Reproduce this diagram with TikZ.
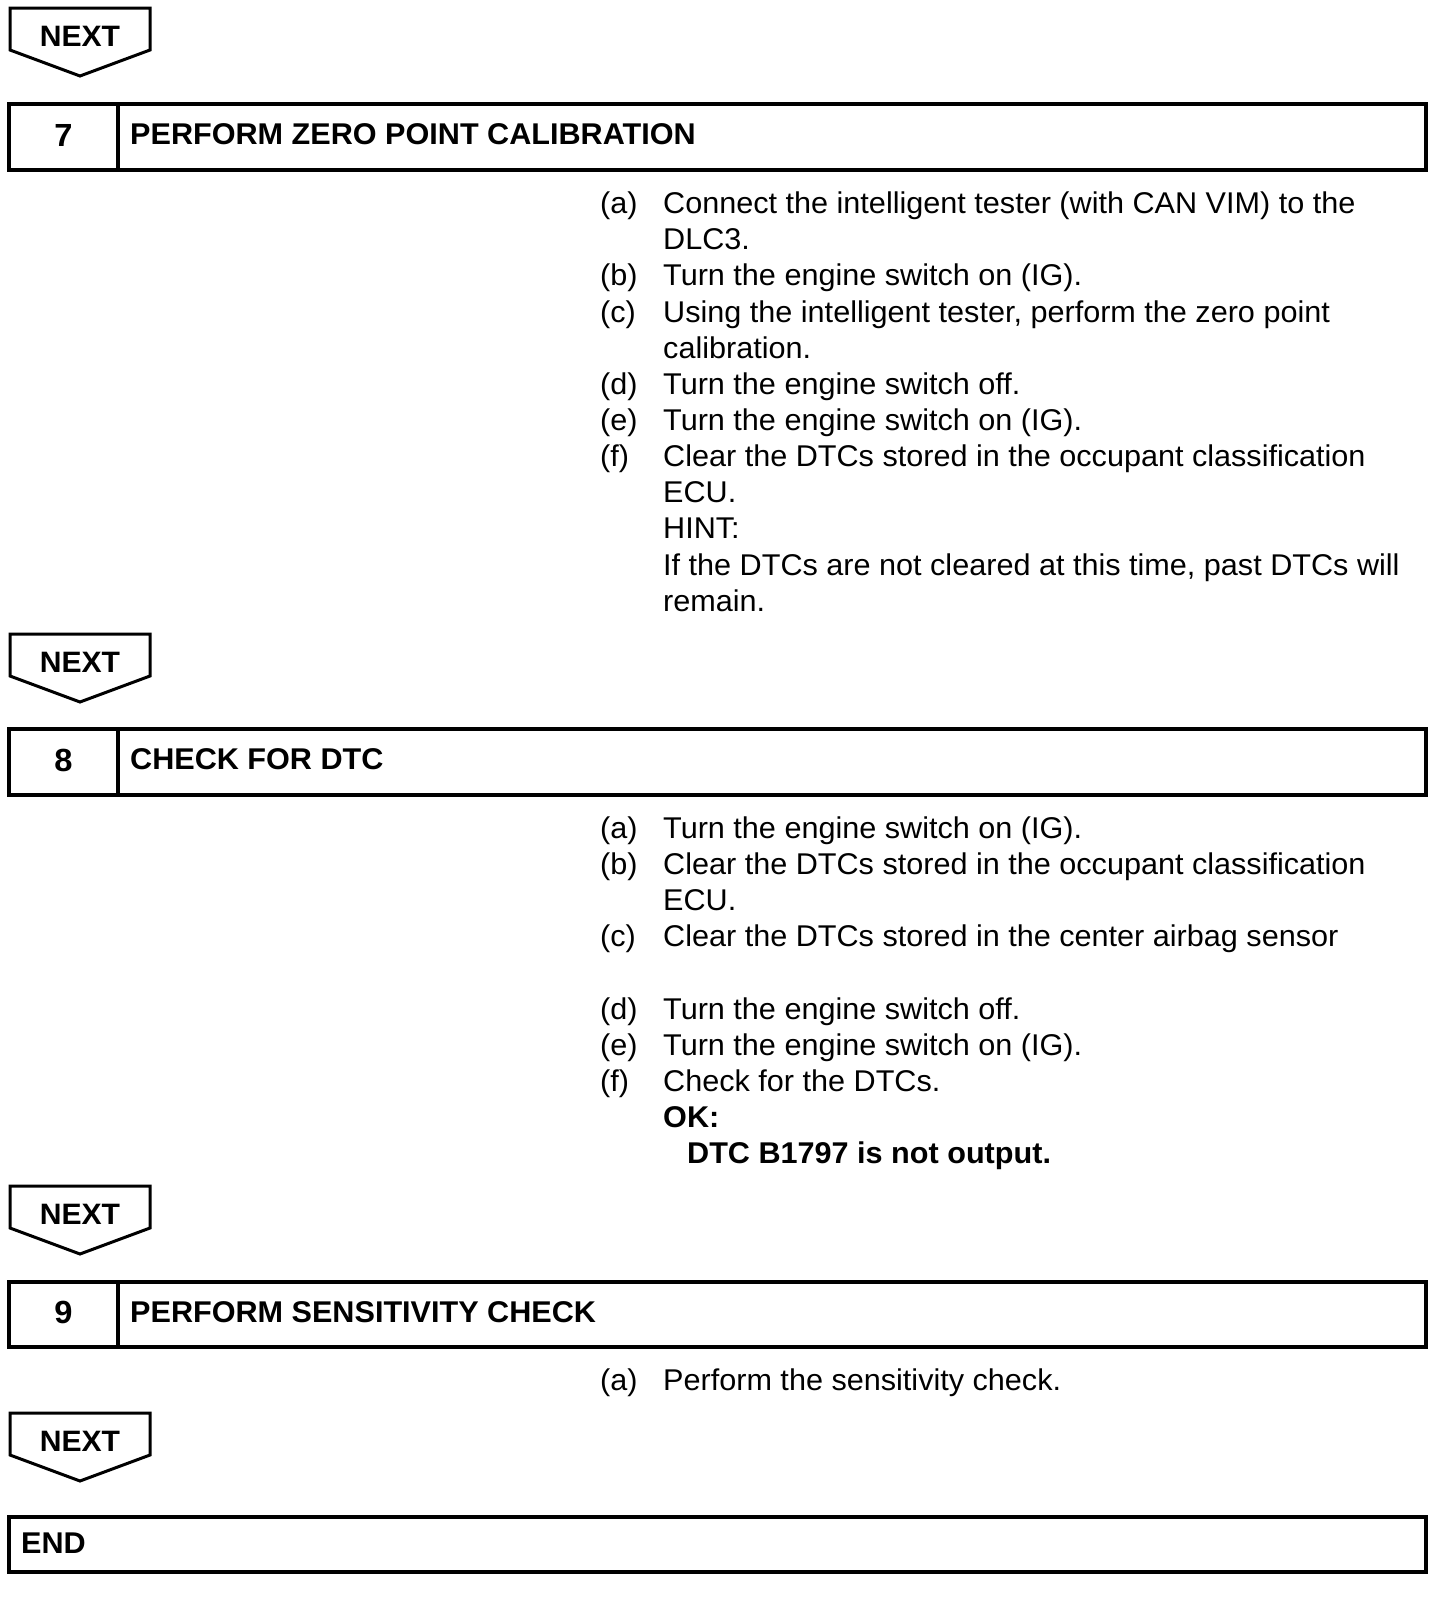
\documentclass[tikz,border=0pt]{standalone}
\usepackage{fontspec}
\setmainfont[FakeStretch=1.02]{Liberation Sans}
\begin{document}
\begin{tikzpicture}[x=1pt,y=-1pt,
  boxline/.style={line width=3.6pt},
  nextline/.style={line width=3pt, line join=miter},
  nexttext/.style={font=\fontsize{29.5}{31}\selectfont\bfseries, inner sep=0pt},
  numtext/.style={font=\fontsize{32}{34}\selectfont\bfseries, inner sep=0pt},
  headtext/.style={font=\fontsize{30}{32}\selectfont\bfseries, anchor=west, inner sep=0pt},
  body/.style={font=\fontsize{30}{32}\selectfont, anchor=base west, inner sep=0pt},
  bodyb/.style={font=\fontsize{30}{32}\selectfont\bfseries, anchor=base west, inner sep=0pt},
]
\useasboundingbox (0,0) rectangle (1456,1598);
\fill[white] (0,0) rectangle (1456,1598);

% NEXT 1
\draw[nextline] (10,8) -- (150,8) -- (150,50) -- (80,76) -- (10,50) -- cycle;
\node[nexttext] (next1) at (80,36) {NEXT};

% Step 7
\draw[boxline] (9,104) rectangle (1426,170);
\draw[boxline] (118,104) -- (118,170);
\node[numtext] (n7) at (63.5,135) {7};
\node[headtext] (h7) at (130,134.5) {PERFORM ZERO POINT CALIBRATION};

\node[body] (s7a) at (600,213) {(a)};
\node[body] (t7a1) at (663,213) {Connect the intelligent tester (with CAN VIM) to the};
\node[body] (t7a2) at (663,249) {DLC3.};
\node[body] (s7b) at (600,285) {(b)};
\node[body] (t7b) at (663,285) {Turn the engine switch on (IG).};
\node[body] (s7c) at (600,322) {(c)};
\node[body] (t7c1) at (663,322) {Using the intelligent tester, perform the zero point};
\node[body] (t7c2) at (663,358) {calibration.};
\node[body] (s7d) at (600,394) {(d)};
\node[body] (t7d) at (663,394) {Turn the engine switch off.};
\node[body] (s7e) at (600,430) {(e)};
\node[body] (t7e) at (663,430) {Turn the engine switch on (IG).};
\node[body] (s7f) at (600,466) {(f)};
\node[body] (t7f1) at (663,466) {Clear the DTCs stored in the occupant classification};
\node[body] (t7f2) at (663,502) {ECU.};
\node[body] (t7f3) at (663,538) {HINT:};
\node[body] (t7f4) at (663,575) {If the DTCs are not cleared at this time, past DTCs will};
\node[body] (t7f5) at (663,611) {remain.};

% NEXT 2
\draw[nextline] (10,634) -- (150,634) -- (150,676) -- (80,702) -- (10,676) -- cycle;
\node[nexttext] (next2) at (80,662) {NEXT};

% Step 8
\draw[boxline] (9,729) rectangle (1426,795);
\draw[boxline] (118,729) -- (118,795);
\node[numtext] (n8) at (63.5,760) {8};
\node[headtext] (h8) at (130,759.5) {CHECK FOR DTC};

\node[body] (s8a) at (600,838) {(a)};
\node[body] (t8a) at (663,838) {Turn the engine switch on (IG).};
\node[body] (s8b) at (600,874) {(b)};
\node[body] (t8b1) at (663,874) {Clear the DTCs stored in the occupant classification};
\node[body] (t8b2) at (663,910) {ECU.};
\node[body] (s8c) at (600,946) {(c)};
\node[body] (t8c) at (663,946) {Clear the DTCs stored in the center airbag sensor};
\node[body] (s8d) at (600,1019) {(d)};
\node[body] (t8d) at (663,1019) {Turn the engine switch off.};
\node[body] (s8e) at (600,1055) {(e)};
\node[body] (t8e) at (663,1055) {Turn the engine switch on (IG).};
\node[body] (s8f) at (600,1091) {(f)};
\node[body] (t8f) at (663,1091) {Check for the DTCs.};
\node[bodyb] (t8ok) at (663,1127) {OK:};
\node[bodyb] (t8dtc) at (687,1163) {DTC B1797 is not output.};

% NEXT 3
\draw[nextline] (10,1186) -- (150,1186) -- (150,1228) -- (80,1254) -- (10,1228) -- cycle;
\node[nexttext] (next3) at (80,1214) {NEXT};

% Step 9
\draw[boxline] (9,1282) rectangle (1426,1347);
\draw[boxline] (118,1282) -- (118,1347);
\node[numtext] (n9) at (63.5,1312.5) {9};
\node[headtext] (h9) at (130,1312) {PERFORM SENSITIVITY CHECK};

\node[body] (s9a) at (600,1390) {(a)};
\node[body] (t9a) at (663,1390) {Perform the sensitivity check.};

% NEXT 4
\draw[nextline] (10,1413) -- (150,1413) -- (150,1455) -- (80,1481) -- (10,1455) -- cycle;
\node[nexttext] (next4) at (80,1441) {NEXT};

% END
\draw[boxline] (9,1517) rectangle (1426,1572);
\node[headtext] (endt) at (21,1543.5) {END};
\end{tikzpicture}
\end{document}
